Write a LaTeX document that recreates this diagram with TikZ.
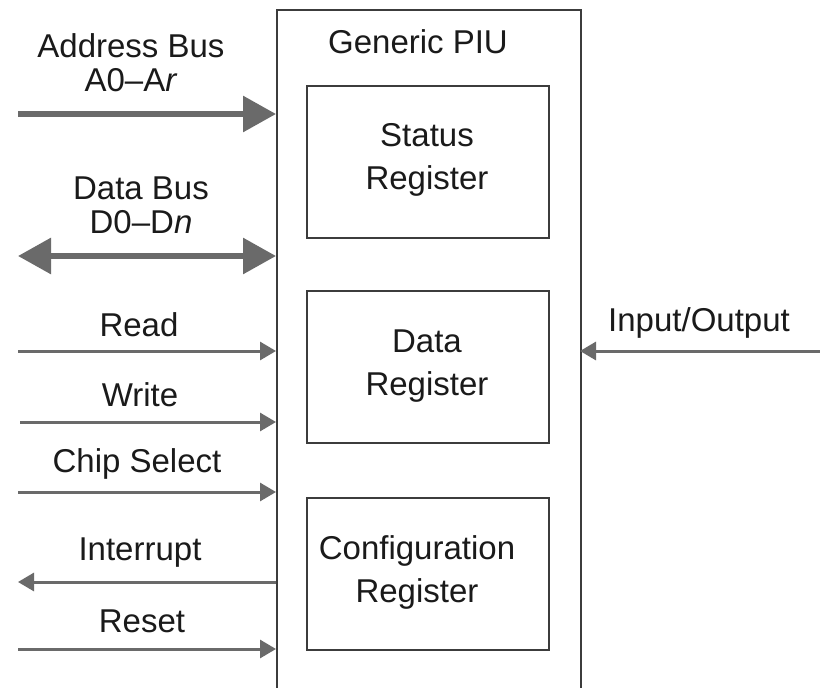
\documentclass[tikz,border=0pt]{standalone}
\usepackage{fontspec}
\setmainfont{Liberation Sans}
\usetikzlibrary{arrows.meta}
\definecolor{arr}{HTML}{6A6A6A}
\definecolor{bord}{HTML}{3C3C3C}
\definecolor{txt}{HTML}{1A1A1A}
\tikzset{
  lbl/.style={text=txt, font=\fontsize{33}{43}\selectfont, inner sep=0pt, align=center},
  regbox/.style={draw=bord, line width=1.6pt, minimum width=242pt, minimum height=152pt, inner sep=0pt, anchor=north west},
  sig/.style={draw=arr, line width=3pt, -{Triangle[length=16pt,width=18pt]}},
  sigl/.style={draw=arr, line width=3pt, {Triangle[length=16pt,width=18pt]}-},
  bus/.style={draw=arr, line width=6pt, -{Triangle[length=33pt,width=35pt]}},
  busb/.style={draw=arr, line width=6pt, {Triangle[length=33pt,width=35pt]}-{Triangle[length=33pt,width=35pt]}}
}
\begin{document}
\begin{tikzpicture}[x=1pt,y=-1pt]
\useasboundingbox (0,0) rectangle (820,688);
\clip (0,0) rectangle (820,688);
\fill[white] (0,0) rectangle (820,688);
% main box
\node[draw=bord, line width=1.6pt, minimum width=304pt, minimum height=720pt, inner sep=0pt, anchor=north west] (piu) at (276,9) {};
\node[lbl] (title) at (418,42) {Generic PIU};
% registers
\node[regbox] (status) at (306,85) {};
\node[lbl] (statust) at (427,160) {Status\\Register};
\node[regbox] (data) at (306,290) {};
\node[lbl] (datat) at (427,366) {Data\\Register};
\node[regbox] (conf) at (306,497) {};
\node[lbl] (conft) at (417,572) {Configuration\\Register};
% left signals
\coordinate (aL) at (18,114); \coordinate (aR) at (276,114);
\draw[bus] (aL) -- (aR);
\node[lbl] (at1) at (131,46) {Address Bus};
\node[lbl] (at2) at (131,80) {A0--A\emph{r}};
\coordinate (dL) at (18,256); \coordinate (dR) at (276,256);
\draw[busb] (dL) -- (dR);
\node[lbl] (dt1) at (141,188) {Data Bus};
\node[lbl] (dt2) at (141,222) {D0--D\emph{n}};
\coordinate (rL) at (18,351); \coordinate (rR) at (276,351);
\draw[sig] (rL) -- (rR);
\node[lbl] (rt) at (139,325) {Read};
\coordinate (wL) at (20,422); \coordinate (wR) at (276,422);
\draw[sig] (wL) -- (wR);
\node[lbl] (wt) at (140,395) {Write};
\coordinate (cL) at (18,492); \coordinate (cR) at (276,492);
\draw[sig] (cL) -- (cR);
\node[lbl] (ct) at (137,464) {Chip Select};
\coordinate (iL) at (18,582); \coordinate (iR) at (276,582);
\draw[sigl] (iL) -- (iR);
\node[lbl] (it) at (140,553) {Interrupt};
\coordinate (sL) at (18,649); \coordinate (sR) at (276,649);
\draw[sig] (sL) -- (sR);
\node[lbl] (st) at (142,621) {Reset};
% right signal
\coordinate (ioL) at (580,351); \coordinate (ioR) at (822,351);
\draw[sigl] (ioL) -- (ioR);
\node[lbl] (iot) at (699,323) {Input/Output};
\end{tikzpicture}
\end{document}
